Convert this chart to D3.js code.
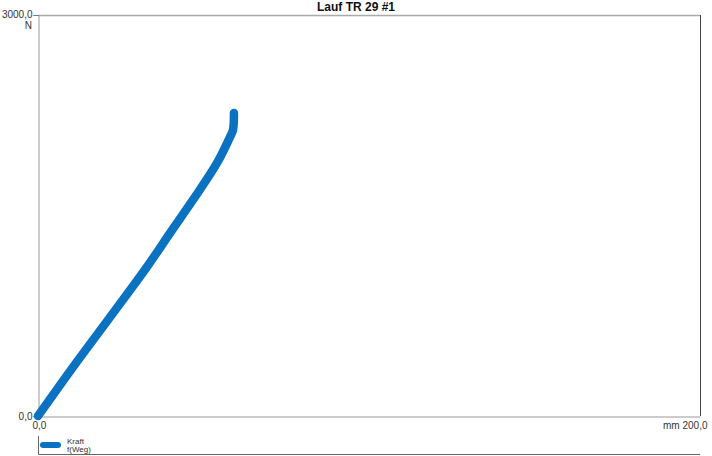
<!DOCTYPE html>
<html lang="de">
<head>
    <meta charset="UTF-8">
    <title>Lauf TR 29 #1</title>
    <script src="https://d3js.org/d3.v7.min.js"></script>
    <style>
        body {
            margin: 0;
            background-color: #fff;
            font-family: "Liberation Sans", Arial, sans-serif;
        }
        svg {
            display: block;
        }
        .tick-label {
            font-size: 10px;
            fill: #333;
        }
        .title {
            font-size: 12px;
            font-weight: bold;
            fill: #111;
            text-anchor: middle;
        }
        .legend-label {
            font-size: 8px;
            fill: #333;
        }
    </style>
</head>
<body>
    <div id="chart"></div>

    <script>
        // Chart size
        const width = 712;
        const height = 456;

        // Data: Weg (mm) and Kraft (N)
        const weg   = [0, 10.6, 21.8, 32.9, 39.9, 46.8, 54.1, 58.0, 58.9, 59.2];
        const kraft = [0, 367, 741, 1115, 1369, 1616, 1893, 2087, 2140, 2267];

        const xDomain = [0, 200];
        const yDomain = [0, 3000];
        const xTickLabels = ["0,0", "mm 200,0"];
        const yTickLabels = ["0,0", "3000,0"];
        const yUnit = "N";
        const title = "Lauf TR 29 #1";
        const legendLines = ["Kraft", "f(Weg)"];

        const plot = { left: 38, right: 700, top: 15, bottom: 416 };
        const blue = "#0a72c0";

        const svg = d3.select("#chart")
            .append("svg")
            .attr("width", width)
            .attr("height", height);

        // Scales
        const x = d3.scaleLinear().domain(xDomain).range([plot.left, plot.right]);
        const y = d3.scaleLinear().domain(yDomain).range([plot.bottom, plot.top]);

        // Title
        svg.append("text")
            .attr("class", "title")
            .attr("x", width / 2)
            .attr("y", 11)
            .text(title);

        // Frame: top (light), right (dark)
        svg.append("line")
            .attr("x1", plot.left).attr("x2", plot.right)
            .attr("y1", plot.top + 0.5).attr("y2", plot.top + 0.5)
            .attr("stroke", "#aaa").attr("stroke-width", 1.5);
        svg.append("line")
            .attr("x1", plot.right + 0.5).attr("x2", plot.right + 0.5)
            .attr("y1", plot.top).attr("y2", plot.bottom)
            .attr("stroke", "#444");

        // Y axis with only the end ticks
        const yAxis = d3.axisLeft(y)
            .tickValues(yDomain)
            .tickSize(5)
            .tickFormat((d, i) => yTickLabels[i]);
        const gy = svg.append("g")
            .attr("transform", `translate(${plot.left + 0.5},0)`)
            .call(yAxis);
        gy.select(".domain").attr("stroke", "#999");
        gy.selectAll(".tick line").attr("stroke", "#777");
        gy.selectAll(".tick text")
            .attr("class", "tick-label")
            .attr("x", -6)
            .attr("dy", (d, i) => i === 0 ? "0.32em" : "0.2em");

        svg.append("text")
            .attr("class", "tick-label")
            .attr("x", 32)
            .attr("y", 29)
            .attr("text-anchor", "end")
            .text(yUnit);

        // X axis with only the end ticks
        const xAxis = d3.axisBottom(x)
            .tickValues(xDomain)
            .tickSize(0)
            .tickFormat((d, i) => xTickLabels[i]);
        const gx = svg.append("g")
            .attr("transform", `translate(0,${plot.bottom + 0.5})`)
            .call(xAxis);
        gx.select(".domain").attr("stroke", "#999");
        gx.selectAll(".tick text")
            .attr("class", "tick-label")
            .attr("y", 5)
            .attr("dy", "0.71em")
            .attr("text-anchor", (d, i) => i === 0 ? "start" : "end")
            .attr("dx", (d, i) => i === 0 ? -6 : 7);

        // Curve
        const points = weg.map((w, i) => [w, kraft[i]]);
        const line = d3.line()
            .x(d => x(d[0]))
            .y(d => y(d[1]))
            .curve(d3.curveCatmullRom);

        svg.append("path")
            .datum(points)
            .attr("d", line)
            .attr("fill", "none")
            .attr("stroke", blue)
            .attr("stroke-width", 8.5)
            .attr("stroke-linecap", "round")
            .attr("stroke-linejoin", "round");

        // Legend box
        const legend = svg.append("g");
        legend.append("path")
            .attr("d", `M${plot.left + 0.5},436V454.5H${plot.right}`)
            .attr("fill", "none")
            .attr("stroke", "#666");
        legend.append("line")
            .attr("x1", 43).attr("x2", 58)
            .attr("y1", 445).attr("y2", 445)
            .attr("stroke", blue)
            .attr("stroke-width", 6)
            .attr("stroke-linecap", "round");
        legend.selectAll("text.legend-label")
            .data(legendLines)
            .enter()
            .append("text")
            .attr("class", "legend-label")
            .attr("x", 67)
            .attr("y", (d, i) => 444 + i * 8)
            .text(d => d);
    </script>
</body>
</html>
